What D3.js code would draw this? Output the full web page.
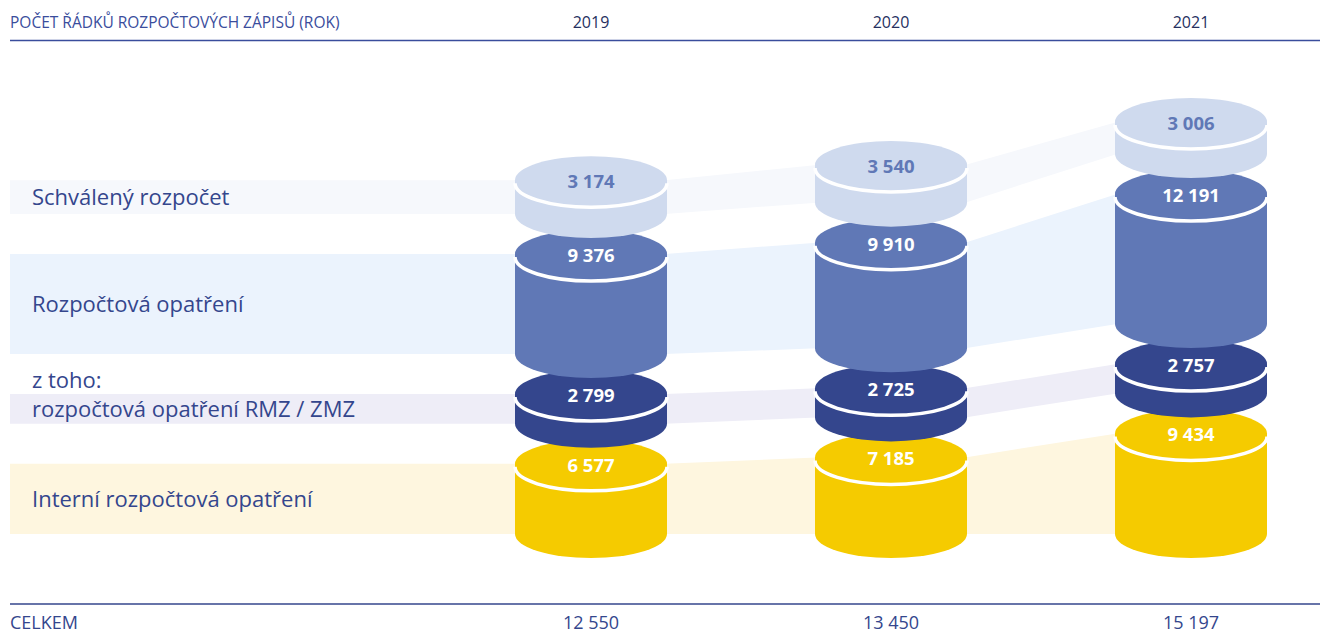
<!DOCTYPE html>
<html>
<head>
<meta charset="utf-8">
<script src="https://cdn.jsdelivr.net/npm/d3@7"></script>
<style>
  body { margin: 0; background: #fff; }
  svg { display: block; font-family: "Open Sans", sans-serif; }
</style>
</head>
<body>
<div id="chart"></div>
<script>
// data
const years = ["2019", "2020", "2021"];
const categories = ["Schválený rozpočet", "Rozpočtová opatření", "rozpočtová opatření RMZ / ZMZ", "Interní rozpočtová opatření"];
const schvaleny = [3174, 3540, 3006];
const rozpoctova = [9376, 9910, 12191];
const rmzZmz = [2799, 2725, 2757];
const interni = [6577, 7185, 9434];
const totals = [12550, 13450, 15197];

const series = [schvaleny, rozpoctova, rmzZmz, interni]; // top -> bottom
const faceColors = ["#cfdaee", "#6078b6", "#34468d", "#f5cb00"];
const bandColors = ["#f6f8fc", "#ebf3fd", "#eeedf7", "#fef6df"];
const labelColors = ["#6078b6", "#fff", "#fff", "#fff"];

const width = 1320, height = 635;
const rx = 76, ry = 24, gap = 40, baseY = 534;

const fmt = d3.formatLocale({ decimal: ",", thousands: "\u00a0", grouping: [3], currency: ["", ""] }).format(",d");

const x = d3.scalePoint().domain(years).range([591, 1191]);
const h = d3.scaleLinear().domain([0, 12191]).range([0, 130]);

const svg = d3.select("#chart").append("svg")
  .attr("width", width).attr("height", height);

// stack geometry: ty = face centre, by = bottom centre
const geo = series.map(() => []);
years.forEach((yr, j) => {
  let bottom = baseY;
  for (let i = series.length - 1; i >= 0; i--) {
    const by = bottom;
    const ty = by - h(series[i][j]);
    geo[i][j] = { ty, by, cx: x(yr), v: series[i][j] };
    bottom = ty - gap;
  }
});

// ribbons behind cylinders
const area = d3.area().x(d => d[0]).y0(d => d[1]).y1(d => d[2]);
series.forEach((s, i) => {
  const g = geo[i];
  const pts = [[10, g[0].ty, g[0].by]];
  g.forEach((d, j) => {
    if (j > 0) pts.push([d.cx - rx + 2, d.ty, d.by]);
    if (j < g.length - 1) pts.push([d.cx + rx - 2, d.ty, d.by]);
    else pts.push([d.cx, d.ty, d.by]);
  });
  svg.append("path").attr("d", area(pts)).attr("fill", bandColors[i]);
});

// cylinders, bottom segment first so upper ones overlap
const cyl = svg.append("g");
years.forEach((yr, j) => {
  for (let i = series.length - 1; i >= 0; i--) {
    const { ty, by, cx, v } = geo[i][j];
    const g = cyl.append("g");
    g.append("path")
      .attr("d", `M${cx - rx},${ty}L${cx - rx},${by}A${rx},${ry} 0 0 0 ${cx + rx},${by}L${cx + rx},${ty}Z`)
      .attr("fill", faceColors[i]);
    g.append("ellipse")
      .attr("cx", cx).attr("cy", ty).attr("rx", rx).attr("ry", ry)
      .attr("fill", faceColors[i]);
    g.append("path")
      .attr("d", `M${cx - rx},${ty + 3}A${rx},${ry} 0 0 0 ${cx + rx},${ty + 3}`)
      .attr("fill", "none").attr("stroke", "#fff").attr("stroke-width", 3.5);
    g.append("text")
      .attr("x", cx).attr("y", ty + 8)
      .attr("text-anchor", "middle")
      .attr("font-size", 18.5).attr("font-weight", 700)
      .attr("fill", labelColors[i])
      .text(fmt(v));
  }
});

// left category labels
const labelX = 32;
const mid = i => (geo[i][0].ty + geo[i][0].by) / 2 + 8;
const left = svg.append("g").attr("font-size", 22).attr("fill", "#34468d");
left.append("text").attr("x", labelX).attr("y", mid(0)).text(categories[0]);
left.append("text").attr("x", labelX).attr("y", mid(1)).text(categories[1]);
left.append("text").attr("x", labelX).attr("y", mid(2) - 29).text("z toho:");
left.append("text").attr("x", labelX).attr("y", mid(2)).text(categories[2]);
left.append("text").attr("x", labelX).attr("y", mid(3)).text(categories[3]);

// header
svg.append("text").attr("x", 10).attr("y", 28)
  .attr("font-size", 15.5).attr("fill", "#3a4d9c")
  .text("POČET ŘÁDKŮ ROZPOČTOVÝCH ZÁPISŮ (ROK)");
svg.append("g").selectAll("text").data(years).enter().append("text")
  .attr("x", d => x(d)).attr("y", 28).attr("text-anchor", "middle")
  .attr("font-size", 16).attr("fill", "#26305f").text(d => d);
svg.append("line").attr("x1", 10).attr("x2", width).attr("y1", 40.5).attr("y2", 40.5)
  .attr("stroke", "#3a4d9c").attr("stroke-width", 1.5);

// footer
svg.append("line").attr("x1", 10).attr("x2", width).attr("y1", 604).attr("y2", 604)
  .attr("stroke", "#34468d").attr("stroke-width", 1.5);
svg.append("text").attr("x", 10).attr("y", 629)
  .attr("font-size", 18).attr("fill", "#34468d").text("CELKEM");
svg.append("g").selectAll("text").data(totals).enter().append("text")
  .attr("x", (d, j) => x(years[j])).attr("y", 629).attr("text-anchor", "middle")
  .attr("font-size", 18).attr("fill", "#34468d").text(d => fmt(d));
</script>
</body>
</html>
